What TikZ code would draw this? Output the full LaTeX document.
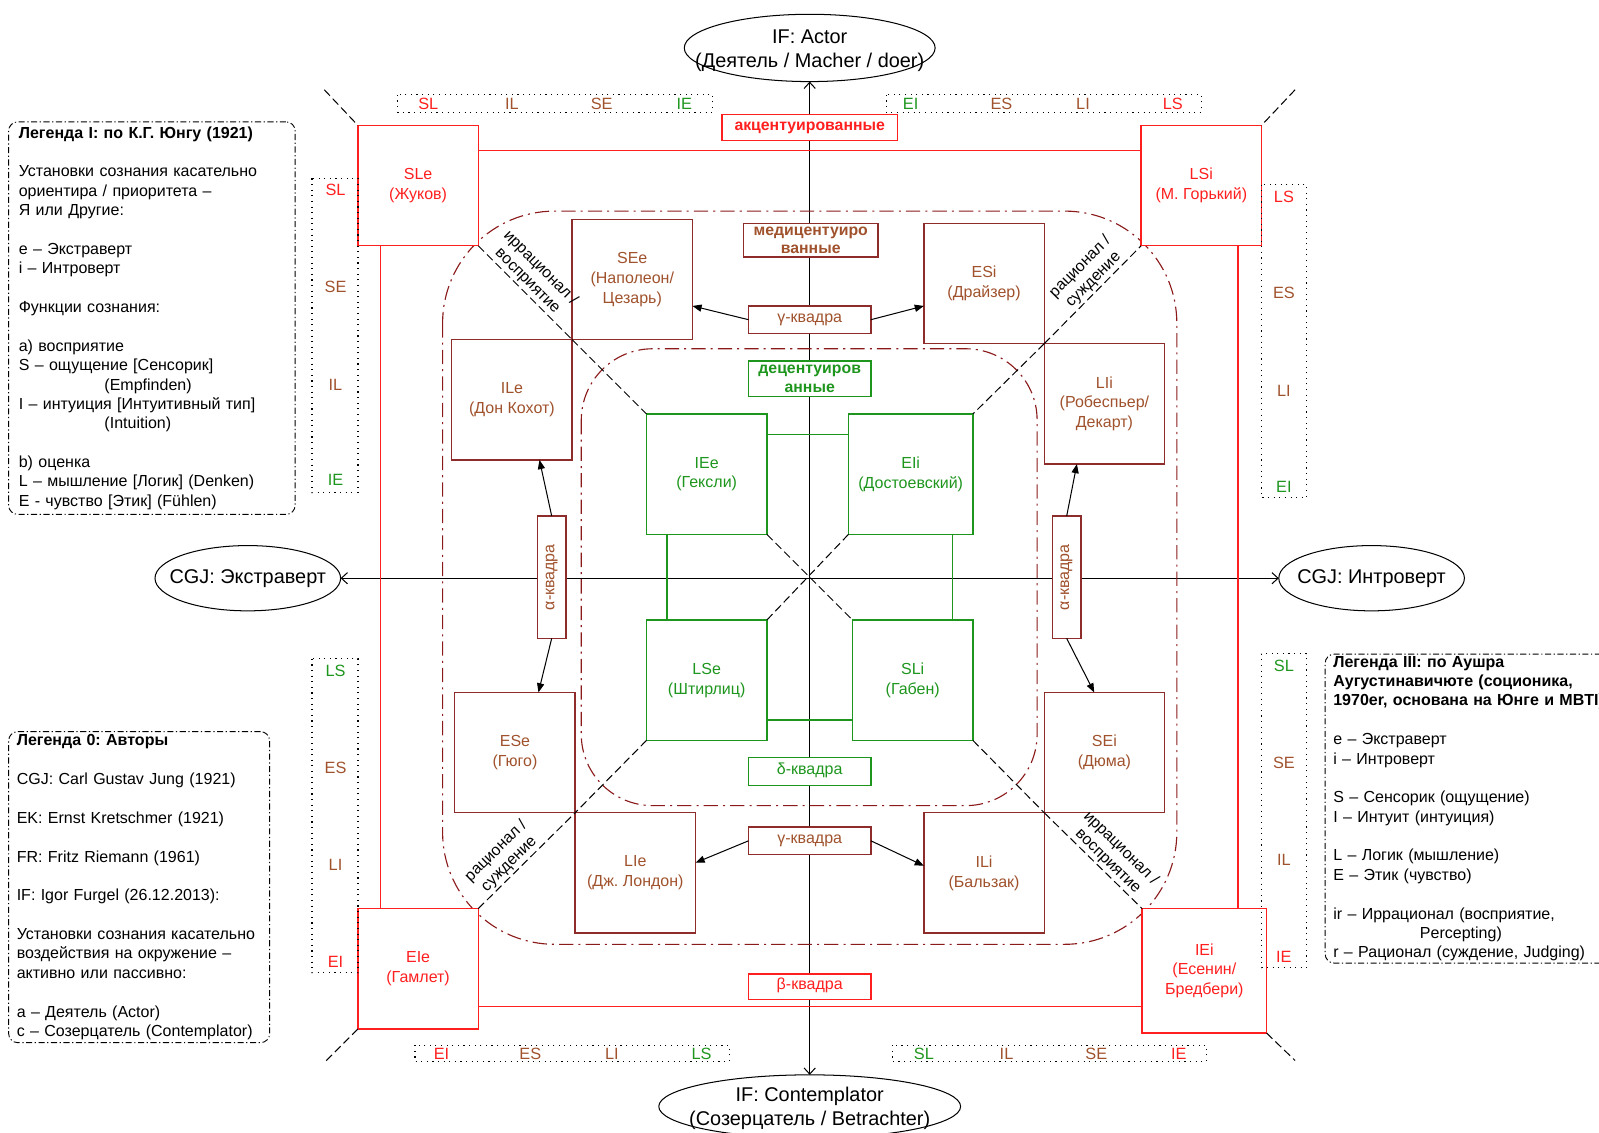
\documentclass[tikz,border=0pt]{standalone}
\usepackage{fontspec}
\setmainfont{Liberation Sans}
\frenchspacing
\usetikzlibrary{shapes.geometric, arrows.meta, positioning, calc}
\definecolor{accred}{HTML}{FF1F1F}
\definecolor{medbrown}{HTML}{A0522D}
\definecolor{medframe}{HTML}{8E2B2B}
\definecolor{ringred}{HTML}{8B1A1A}
\definecolor{decgreen}{HTML}{1E961E}

\begin{document}
\begin{tikzpicture}[x=1pt, y=-1pt,
  txt/.style={font=\fontsize{15.7}{19.5}\selectfont, align=center, inner sep=0pt, outer sep=0pt},
  typebox/.style={txt, rectangle, draw, fill=white, line width=1.3pt, minimum width=118pt, minimum height=118pt},
  redbox/.style={typebox, draw=accred, text=accred},
  brownbox/.style={typebox, draw=medframe, text=medbrown},
  greenbox/.style={typebox, draw=decgreen, text=decgreen},
  tag/.style={txt, rectangle, draw, fill=white, line width=1.3pt, minimum width=120pt, minimum height=27pt},
  oneline/.style={text height=0.72em, text depth=0.22em},
  boldtag/.style={tag, font=\fontsize{15.5}{18}\selectfont\bfseries},
  pole/.style={ellipse, draw, line width=1pt, fill=white, inner sep=0pt, outer sep=0pt},
  poletext/.style={font=\fontsize{19.5}{24}\selectfont, align=center},
  legend/.style={font=\fontsize{15.7}{19}\selectfont, align=left, draw, line width=0.9pt, dash pattern=on 6pt off 2.5pt on 1.2pt off 2.5pt, rounded corners=9pt, inner xsep=10pt, inner ysep=0pt, anchor=north west},
  strip/.style={line width=1.1pt, dash pattern=on 1.1pt off 4.4pt},
  letter/.style={font=\fontsize{16}{18}\selectfont, inner sep=0pt},
  axis/.style={line width=1pt, {Straight Barb[length=6pt,width=11pt]}-{Straight Barb[length=6pt,width=11pt]}},
  arrow/.style={line width=1pt, -{Triangle[length=9pt,width=7pt]}},
  diag/.style={line width=1pt, dash pattern=on 8pt off 4pt},
  ring/.style={draw=ringred, line width=1.1pt, dash pattern=on 14pt off 5pt on 2pt off 5pt},
  link/.style={line width=1.1pt},
  diaglbl/.style={font=\fontsize{15.5}{18}\selectfont, align=center, inner sep=2pt, sloped, above}
]
  \useasboundingbox (0,0) rectangle (1568,1111);
  \clip (0,0) rectangle (1568,1111);

  % Poles
  \node[pole, minimum width=246pt, minimum height=66pt] (actor) at (794,47) {};
  \node[poletext, yshift=-2.5pt] at (actor) {IF: Actor\\(Деятель / Macher / doer)};
  \node[pole, minimum width=296pt, minimum height=62pt] (contemplator) at (794,1085) {};
  \node[poletext, yshift=-2pt] at (contemplator) {IF: Contemplator\\(Созерцатель / Betrachter)};
  \node[pole, minimum width=182pt, minimum height=64pt] (extra) at (243,567) {};
  \node[poletext] at (extra) {CGJ: Экстраверт};
  \node[pole, minimum width=182pt, minimum height=64pt] (intro) at (1345,567) {};
  \node[poletext] at (intro) {CGJ: Интроверт};

  % Axes
  \draw[axis] (actor) -- (contemplator);
  \draw[axis] (extra) -- (intro);

  % Rings
  \draw[ring, rounded corners=110pt] (434,207) rectangle (1154,926);
  \draw[ring, rounded corners=70pt] (570,342) rectangle (1017,790);

  % Types
  \node[redbox] (sle) at (410,182) {SLe\\(Жуков)};
  \node[redbox] (lsi) at (1178,182) {LSi\\(М. Горький)};
  \node[redbox] (eie) at (410,950) {EIe\\(Гамлет)};
  \node[redbox, minimum width=122pt, minimum height=122pt] (iei) at (1181,952) {IEi\\(Есенин/\\Бредбери)};

  \node[brownbox] (see) at (620,274) {SEe\\(Наполеон/\\Цезарь)};
  \node[brownbox] (esi) at (965,278) {ESi\\(Драйзер)};
  \node[brownbox] (ile) at (502,392) {ILe\\(Дон Кохот)};
  \node[brownbox] (lii) at (1083,396) {LIi\\(Робеспьер/\\Декарт)};
  \node[brownbox] (ese) at (505,738) {ESe\\(Гюго)};
  \node[brownbox] (sei) at (1083,738) {SEi\\(Дюма)};
  \node[brownbox] (lie) at (623,856) {LIe\\(Дж. Лондон)};
  \node[brownbox] (ili) at (965,856) {ILi\\(Бальзак)};

  \node[greenbox] (iee) at (693,465) {IEe\\(Гексли)};
  \node[greenbox, minimum width=122pt] (eii) at (893,465) {EIi\\(Достоевский)};
  \node[greenbox] (lse) at (693,667) {LSe\\(Штирлиц)};
  \node[greenbox] (sli) at (895,667) {SLi\\(Габен)};

  % Diagonals
  \coordinate (tl) at (318,88);
  \coordinate (tr) at (1270,88);
  \coordinate (bl) at (318,1042);
  \coordinate (br) at (1270,1040);
  \draw[diag] (tl) -- (sle.north west);
  \draw[diag] (sle.south east) -- node[diaglbl, pos=.45] {иррационал /\\восприятие} (see.south west);
  \draw[diag] (see.south west) -- (iee.north west);
  \draw[diag] (iee.south east) -- (sli.north west);
  \draw[diag] (sli.south east) -- (sei.south west);
  \draw[diag] (sei.south west) -- node[diaglbl, pos=.58] {иррационал /\\восприятие} (iei.north west);
  \draw[diag] (iei.south east) -- (br);
  \draw[diag] (tr) -- (lsi.north east);
  \draw[diag] (esi.south east) -- node[diaglbl, pos=.58] {рационал /\\суждение} (lsi.south west);
  \draw[diag] (esi.south east) -- (eii.north east);
  \draw[diag] (eii.south west) -- (lse.north east);
  \draw[diag] (lse.south west) -- (lie.north west);
  \draw[diag] (eie.north east) -- node[diaglbl, pos=.39] {рационал /\\суждение} (lie.north west);
  \draw[diag] (eie.south west) -- (bl);

  % Links
  \draw[link, accred] ([yshift=-25pt]sle.north east) -- ([yshift=-25pt]lsi.north west);
  \draw[link, accred] ([xshift=22pt]sle.south west) -- ([xshift=22pt]eie.north west);
  \draw[link, accred] ([xshift=-23pt]lsi.south east) -- ([xshift=-28pt]iei.north east);
  \draw[link, accred] ([yshift=22pt]eie.south east) -- ([yshift=26pt]iei.south west);
  \draw[link, decgreen] ([yshift=-20pt]iee.north east) -- ([yshift=-20pt]eii.north west);
  \draw[link, decgreen] ([xshift=20pt]iee.south west) -- ([xshift=20pt]lse.north west);
  \draw[link, decgreen] ([xshift=-20pt]eii.south east) -- ([xshift=-20pt]sli.north east);
  \draw[link, decgreen] ([yshift=20pt]lse.south east) -- ([yshift=20pt]sli.south west);

  % Quadra tags
  \node[boldtag, oneline, draw=accred, text=accred, minimum width=172pt, minimum height=26pt] (akzent) at (794,125) {акцентуированные};
  \node[boldtag, draw=medframe, text=medbrown, minimum width=132pt, minimum height=33pt] (medi) at (795,235.5) {медицентуиро\\ванные};
  \node[boldtag, draw=decgreen, text=decgreen, minimum height=35pt] (dezent) at (794,371.5) {децентуиров\\анные};
  \node[tag, oneline, draw=medframe, text=medbrown] (gammaT) at (794,313.5) {γ-квадра};
  \node[tag, oneline, draw=medframe, text=medbrown] (gammaB) at (794,824.5) {γ-квадра};
  \node[tag, oneline, draw=decgreen, text=decgreen] (delta) at (794,756.5) {δ-квадра};
  \node[tag, oneline, draw=accred, text=accred, minimum height=25pt] (beta) at (794,967.5) {β-квадра};
  \node[tag, oneline, draw=medframe, text=medbrown, minimum height=28pt, rotate=90] (alphaL) at (541,566) {α-квадра};
  \node[tag, oneline, draw=medframe, text=medbrown, minimum height=28pt, rotate=90] (alphaR) at (1046,566) {α-квадра};

  % Quadra arrows
  \draw[arrow] (gammaT.west) -- (see.east |- gammaT.north);
  \draw[arrow] (gammaT.east) -- (esi.west |- gammaT.north);
  \draw[arrow] (gammaB.west) -- ([yshift=10pt]lie.east);
  \draw[arrow] (gammaB.east) -- ([yshift=7pt]ili.west);
  \draw[arrow] (alphaL.east) -- ([xshift=27pt]ile.south);
  \draw[arrow] (alphaL.west) -- ([xshift=23pt]ese.north);
  \draw[arrow] (alphaR.east) -- ([xshift=-27pt]lii.south);
  \draw[arrow] (alphaR.west) -- ([xshift=-10pt]sei.north);

  % Function strips
  \draw[strip] (390,93) rectangle (699,110);
  \draw[strip] (869,93) rectangle (1178,110);
  \draw[strip] (407,1025) rectangle (715,1041);
  \draw[strip] (875,1025) rectangle (1183,1041);
  \draw[strip] (306,175) rectangle (351,483);
  \draw[strip] (306,646) rectangle (351,954);
  \draw[strip] (1237,181) rectangle (1281,488);
  \draw[strip] (1237,641) rectangle (1281,949);
  \foreach \t/\c/\x in {SL/accred/420, IL/medbrown/502, SE/medbrown/590, IE/decgreen/671,
                        EI/decgreen/893, ES/medbrown/982, LI/medbrown/1062, LS/accred/1150}
    \node[letter, text=\c] at (\x,102) {\t};
  \foreach \t/\c/\x in {EI/accred/433, ES/medbrown/520, LI/medbrown/600, LS/decgreen/688,
                        SL/decgreen/906, IL/medbrown/987, SE/medbrown/1075, IE/accred/1156}
    \node[letter, text=\c] at (\x,1033.5) {\t};
  \foreach \t/\c/\y in {SL/accred/186, SE/medbrown/281, IL/medbrown/377, IE/decgreen/471,
                        LS/decgreen/658, ES/medbrown/753, LI/medbrown/848, EI/accred/943}
    \node[letter, text=\c] at (329,\y) {\t};
  \foreach \t/\c/\y in {LS/accred/193, ES/medbrown/287, LI/medbrown/383, EI/decgreen/477,
                        SL/decgreen/653, SE/medbrown/748, IL/medbrown/843, IE/accred/938}
    \node[letter, text=\c] at (1259,\y) {\t};

  % Legends
  \node[legend, text width=261pt, minimum height=385pt] (legJung) at (8,119) {%
    \textbf{Легенда I: по К.Г. Юнгу (1921)}\\[19pt]
    Установки сознания касательно\\
    ориентира / приоритета –\\
    Я или Другие:\\[19pt]
    e – Экстраверт\\
    i – Интроверт\\[19pt]
    Функции сознания:\\[19pt]
    a) восприятие\\
    S – ощущение [Сенсорик]\\
    \hspace*{84pt}(Empfinden)\\
    I – интуиция [Интуитивный тип]\\
    \hspace*{84pt}(Intuition)\\[19pt]
    b) оценка\\
    L – мышление [Логик] (Denken)\\
    E - чувство [Этик] (Fühlen)};
  \node[legend, text width=240pt, inner xsep=8pt, minimum height=305pt] (legAuthors) at (8,717) {%
    \textbf{Легенда 0: Авторы}\\[19pt]
    CGJ: Carl Gustav Jung (1921)\\[19pt]
    EK: Ernst Kretschmer (1921)\\[19pt]
    FR: Fritz Riemann (1961)\\[19pt]
    IF: Igor Furgel (26.12.2013):\\[19pt]
    Установки сознания касательно\\
    воздействия на окружение –\\
    активно или пассивно:\\[19pt]
    a – Деятель (Actor)\\
    c – Созерцатель (Contemplator)};
  \node[legend, text width=300pt, inner xsep=8pt, minimum height=303pt] (legSocio) at (1299,641) {%
    \textbf{Легенда III: по Аушра}\\
    \textbf{Аугустинавичюте (соционика,}\\
    \textbf{1970er, основана на Юнге и MBTI)}\\[19pt]
    e – Экстраверт\\
    i – Интроверт\\[19pt]
    S – Сенсорик (ощущение)\\
    I – Интуит (интуиция)\\[19pt]
    L – Логик (мышление)\\
    E – Этик (чувство)\\[19pt]
    ir – Иррационал (восприятие,\\
    \hspace*{85pt}Percepting)\\
    r – Рационал (суждение, Judging)};
\end{tikzpicture}
\end{document}
